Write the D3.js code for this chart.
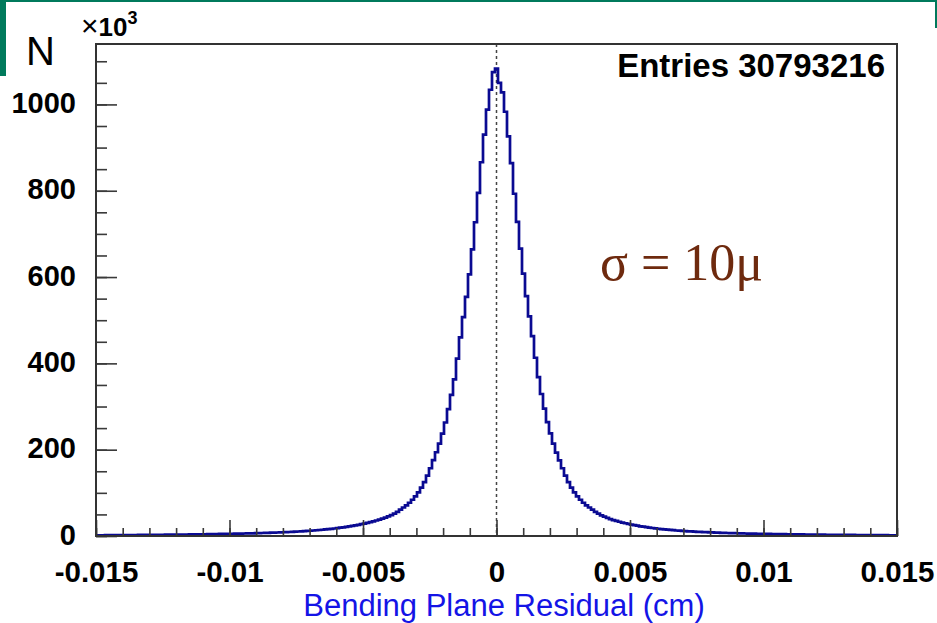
<!DOCTYPE html>
<html>
<head>
<meta charset="utf-8">
<script src="https://cdn.jsdelivr.net/npm/d3@7"></script>
<style>
  body { margin: 0; background: #fff; }
  svg { display: block; }
  .tick line { stroke: #3a3a3a; stroke-width: 1.6; }
  .tick text { font-family: "Liberation Sans", Arial, Helvetica, sans-serif; font-weight: bold; fill: #000; }
</style>
</head>
<body>
<div id="wrapper"></div>
<script>
// histogram range (cm) and bin contents in units of 10^3
const xRange = [-0.015, 0.015];
const countsK = [
  1.6, 1.7, 1.7, 1.8, 1.8, 1.9, 1.9, 2.0, 2.0, 2.1, 2.1, 2.2, 2.3, 2.3, 2.4, 2.4, 2.5, 2.6, 2.6, 2.7,
  2.8, 2.8, 2.9, 3.0, 3.0, 3.1, 3.2, 3.3, 3.3, 3.4, 3.5, 3.6, 3.7, 3.8, 3.9, 4.0, 4.1, 4.2, 4.4, 4.5,
  4.6, 4.7, 4.8, 4.9, 5.1, 5.2, 5.3, 5.5, 5.6, 5.8, 6.0, 6.1, 6.3, 6.5, 6.7, 6.9, 7.1, 7.3, 7.6, 7.8,
  8.1, 8.4, 8.7, 9.0, 9.3, 9.6, 10.0, 10.4, 10.8, 11.2, 11.7, 12.2, 12.7, 13.3, 13.9, 14.5, 15.2, 15.9, 16.6, 17.4,
  18.3, 19.2, 20.2, 21.2, 22.3, 23.4, 24.6, 25.9, 27.3, 28.8, 30.4, 32.1, 33.9, 35.9, 38.0, 40.3, 42.8, 45.5, 48.5, 52,
  56, 61, 66, 71, 77, 84, 92, 101, 112, 125, 140, 157, 176, 194, 214, 237, 263, 294, 327, 363,
  411, 460, 507, 554, 606, 664, 727, 795, 866, 930, 988, 1034, 1075,
  1083,
  1050, 1028, 983, 926, 864, 793, 728, 666, 608, 556, 509, 463, 413, 368, 329, 295, 264, 238, 214, 193,
  175, 157, 140, 125, 112, 101, 92, 84, 77, 71, 66, 61, 56, 52, 48, 45, 42, 39, 37, 35,
  33, 31, 29.5, 28, 26.5, 25, 24, 22.5, 21.5, 20.5, 19.5, 18.5, 17.5, 16.8, 16, 15.3, 14.6, 14, 13.4, 12.8,
  12.3, 11.8, 11.3, 10.9, 10.5, 10.1, 9.7, 9.4, 9.1, 8.8, 8.5, 8.2, 7.9, 7.7, 7.4, 7.2, 7.0, 6.8, 6.6, 6.4,
  6.2, 6.0, 5.8, 5.7, 5.5, 5.4, 5.2, 5.1, 5.0, 4.8, 4.7, 4.6, 4.5, 4.4, 4.3, 4.2, 4.1, 4.0, 3.9, 3.8,
  3.7, 3.6, 3.5, 3.4, 3.3, 3.2, 3.2, 3.1, 3.0, 2.9, 2.9, 2.8, 2.7, 2.7, 2.6, 2.5, 2.5, 2.4, 2.4, 2.3,
  2.2, 2.2, 2.1, 2.1, 2.0, 2.0, 1.9, 1.9, 1.8, 1.8, 1.7, 1.7, 1.6
];

const xTickValues = [-0.015, -0.01, -0.005, 0, 0.005, 0.01, 0.015];
const xTickLabels = ["-0.015", "-0.01", "-0.005", "0", "0.005", "0.01", "0.015"];
const xMinorValues = d3.range(-15, 16).map((d) => d / 1000);
const yTickValues = [0, 200, 400, 600, 800, 1000];
const yMinorValues = d3.range(0, 1101, 50);
const yMax = 1140;

const entriesText = "Entries 30793216";
const xTitle = "Bending Plane Residual (cm)";
const yTitle = "N";
const sigmaText = "\u03C3 = 10\u03BC";

let dimensions = {
  width: 937,
  height: 623,
  margin: { top: 44, right: 40, bottom: 87, left: 96 },
};
dimensions.boundedWidth = dimensions.width - dimensions.margin.left - dimensions.margin.right;
dimensions.boundedHeight = dimensions.height - dimensions.margin.top - dimensions.margin.bottom;

const svg = d3.select("#wrapper")
  .append("svg")
  .attr("width", dimensions.width)
  .attr("height", dimensions.height);

// green slide decoration
const green = "#007a5c";
svg.append("rect").attr("x", 0).attr("y", 0).attr("width", 937).attr("height", 2).attr("fill", green);
svg.append("rect").attr("x", 0).attr("y", 0).attr("width", 6).attr("height", 76).attr("fill", green);
svg.append("rect").attr("x", 935).attr("y", 0).attr("width", 2).attr("height", 28).attr("fill", green);

const bounds = svg.append("g")
  .attr("transform", `translate(${dimensions.margin.left},${dimensions.margin.top})`);

const xScale = d3.scaleLinear()
  .domain(xRange)
  .range([0, dimensions.boundedWidth]);

const yScale = d3.scaleLinear()
  .domain([0, yMax])
  .range([dimensions.boundedHeight, 0]);

// bins
const binWidth = (xRange[1] - xRange[0]) / countsK.length;
const steps = countsK.map((v, i) => [xRange[0] + i * binWidth, v]);
steps.push([xRange[1], countsK[countsK.length - 1]]);

bounds.append("clipPath").attr("id", "frameclip")
  .append("rect")
  .attr("width", dimensions.boundedWidth)
  .attr("height", dimensions.boundedHeight);

// dashed zero line
bounds.append("line")
  .attr("x1", xScale(0)).attr("x2", xScale(0))
  .attr("y1", 0).attr("y2", dimensions.boundedHeight)
  .attr("stroke", "#444")
  .attr("stroke-width", 1.5)
  .attr("stroke-dasharray", "3,3");

const lineGen = d3.line()
  .x((d) => xScale(d[0]))
  .y((d) => yScale(d[1]))
  .curve(d3.curveStepAfter);

bounds.append("path")
  .datum(steps)
  .attr("d", lineGen)
  .attr("clip-path", "url(#frameclip)")
  .attr("fill", "none")
  .attr("stroke", "#0a0a92")
  .attr("stroke-width", 2.7)
  .attr("stroke-linejoin", "miter");

// axes
const xMinor = d3.axisBottom(xScale)
  .tickValues(xMinorValues)
  .tickSizeInner(-8)
  .tickSizeOuter(0)
  .tickFormat("");
bounds.append("g")
  .attr("transform", `translate(0,${dimensions.boundedHeight})`)
  .call(xMinor)
  .call((g) => g.select(".domain").remove());

const xAxisGenerator = d3.axisBottom(xScale)
  .tickValues(xTickValues)
  .tickSizeInner(-16)
  .tickSizeOuter(0)
  .tickPadding(25)
  .tickFormat((d, i) => xTickLabels[i]);
bounds.append("g")
  .attr("transform", `translate(0,${dimensions.boundedHeight})`)
  .call(xAxisGenerator)
  .call((g) => g.select(".domain").remove())
  .call((g) => g.selectAll("text").style("font-size", "29.5px"));

const yMinor = d3.axisLeft(yScale)
  .tickValues(yMinorValues)
  .tickSizeInner(-11)
  .tickSizeOuter(0)
  .tickFormat("");
bounds.append("g")
  .call(yMinor)
  .call((g) => g.select(".domain").remove());

const yAxisGenerator = d3.axisLeft(yScale)
  .tickValues(yTickValues)
  .tickSizeInner(-21)
  .tickSizeOuter(0)
  .tickPadding(20)
  .tickFormat(d3.format("d"));
bounds.append("g")
  .call(yAxisGenerator)
  .call((g) => g.select(".domain").remove())
  .call((g) => g.selectAll("text").style("font-size", "29px").attr("dy", "0.28em"));

// frame
bounds.append("rect")
  .attr("width", dimensions.boundedWidth)
  .attr("height", dimensions.boundedHeight)
  .attr("fill", "none")
  .attr("stroke", "#333")
  .attr("stroke-width", 2);

// texts
svg.append("text")
  .attr("x", 885).attr("y", 77)
  .attr("text-anchor", "end")
  .style("font-family", "'Liberation Sans', Arial, sans-serif")
  .style("font-weight", "bold")
  .style("font-size", "33px")
  .text(entriesText);

svg.append("text")
  .attr("x", 26).attr("y", 65)
  .style("font-family", "'Liberation Sans', Arial, sans-serif")
  .style("font-size", "40px")
  .text(yTitle);

const expo = svg.append("text")
  .attr("x", 81).attr("y", 36)
  .style("font-family", "'Liberation Sans', Arial, sans-serif")
  .style("font-size", "26px");
expo.append("tspan").style("font-size", "30px").text("\u00D7");
expo.append("tspan").style("font-weight", "bold").text("10");
expo.append("tspan").style("font-weight", "bold").style("font-size", "18px").attr("dy", -12).text("3");

svg.append("text")
  .attr("x", 504).attr("y", 616)
  .attr("text-anchor", "middle")
  .style("font-family", "'Liberation Sans', Arial, sans-serif")
  .style("font-size", "31px")
  .attr("fill", "#1414e6")
  .text(xTitle);

svg.append("text")
  .attr("x", 600).attr("y", 280)
  .style("font-family", "'Liberation Serif', 'Times New Roman', serif")
  .style("font-size", "52px")
  .attr("fill", "#6e2a0e")
  .text(sigmaText);
</script>
</body>
</html>
